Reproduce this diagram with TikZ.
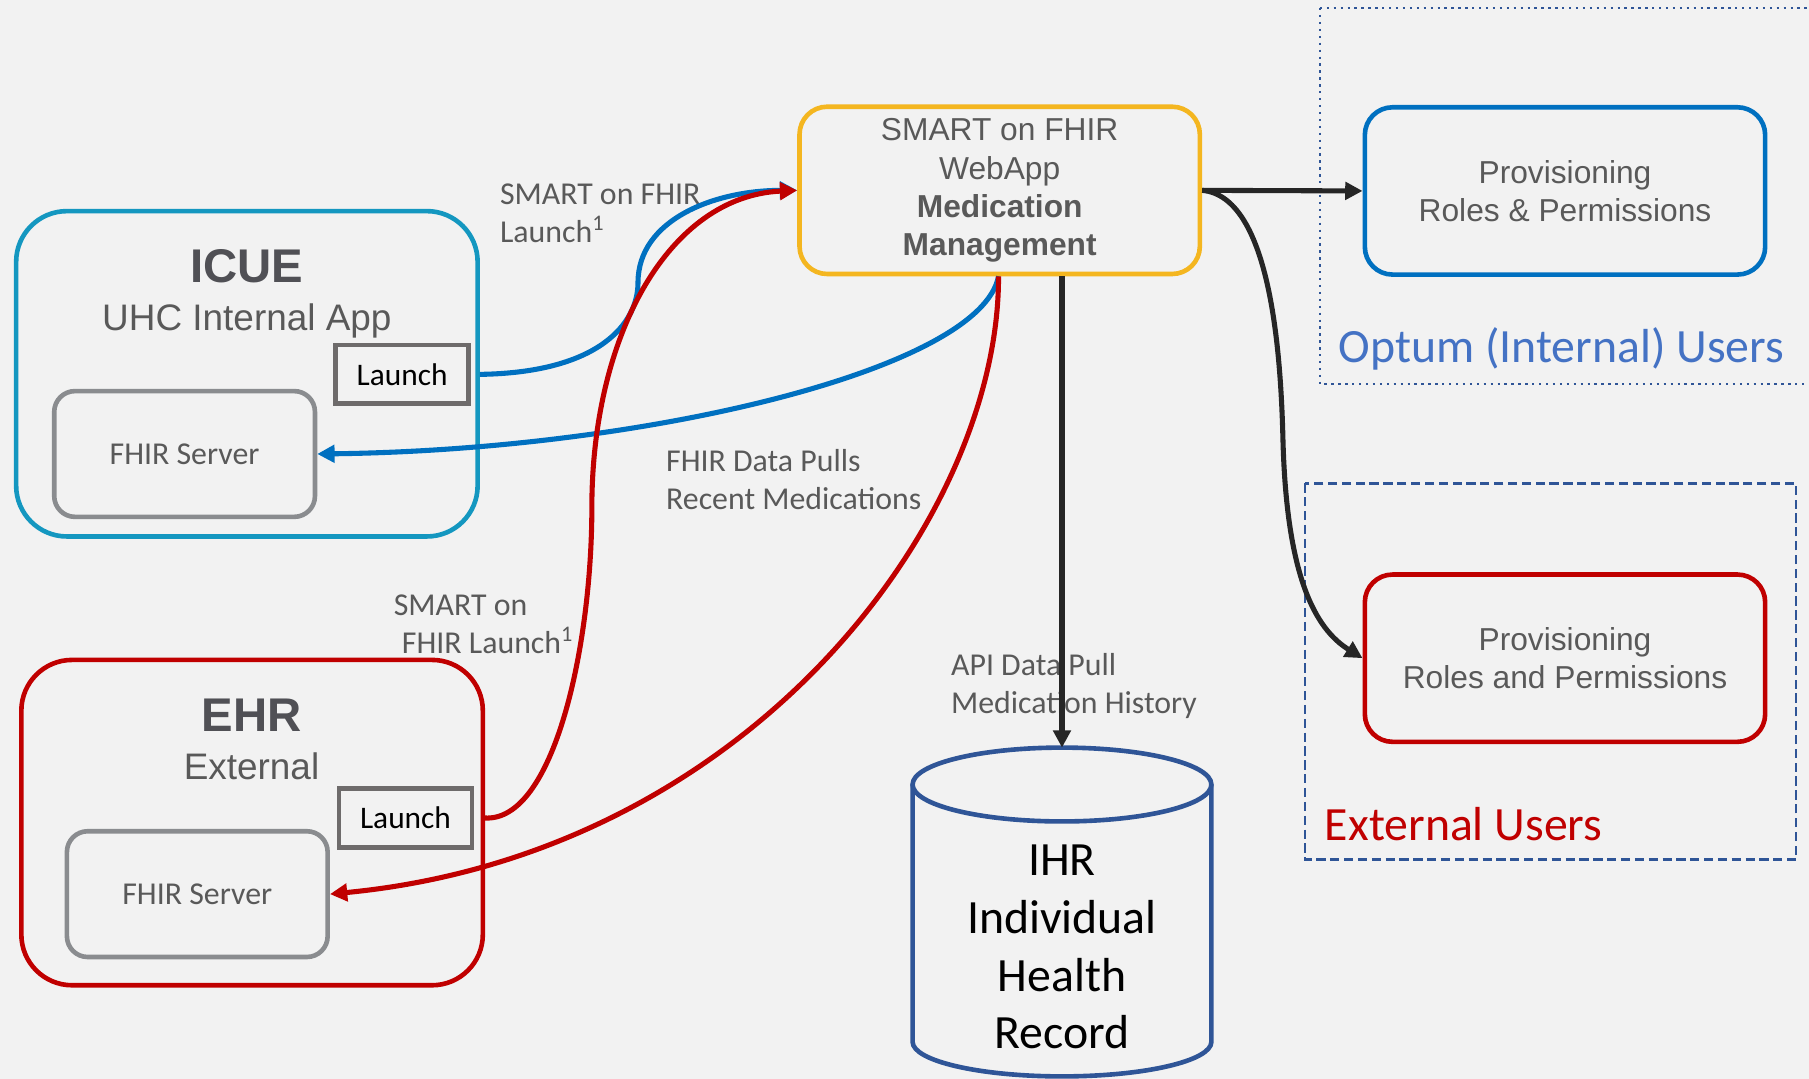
\documentclass[tikz,border=0pt]{standalone}
\usepackage{fontspec}
\setmainfont{Liberation Sans}
\newfontfamily\calib{Carlito}
\usetikzlibrary{arrows.meta}
\definecolor{bgc}{HTML}{F2F2F2}
\definecolor{tealc}{HTML}{1497C0}
\definecolor{redc}{HTML}{C00000}
\definecolor{orangec}{HTML}{F4B620}
\definecolor{bluec}{HTML}{0070C0}
\definecolor{launchc}{HTML}{6E6B6B}
\definecolor{serverc}{HTML}{8A8C8F}
\definecolor{cylc}{HTML}{2F5597}
\definecolor{optumc}{HTML}{4472C4}
\definecolor{txtc}{HTML}{595959}
\definecolor{titlec}{HTML}{505055}
\definecolor{darkc}{HTML}{262626}
\tikzset{
  bigbox/.style={draw=#1, line width=2pt, rounded corners=22pt, minimum width=200pt, minimum height=141pt},
  launchbox/.style={draw=launchc, line width=2pt, minimum width=57.5pt, minimum height=25.5pt, inner sep=0pt, font=\calib\fontsize{13.6}{16}\selectfont, text=black},
  serverbox/.style={draw=serverc, line width=2pt, rounded corners=9pt, minimum width=113pt, minimum height=54.5pt, inner sep=0pt, font=\calib\fontsize{13.8}{16}\selectfont, text=txtc},
  appbox/.style={draw=#1, line width=2pt, rounded corners=12pt, minimum width=173.5pt, minimum height=72.5pt, inner sep=0pt, align=center, text=txtc, font=\fontsize{13.75}{16.5}\selectfont},
  title/.style={font=\bfseries\fontsize{20.5}{24}\selectfont, text=titlec, inner sep=0pt},
  subtitle/.style={font=\fontsize{16}{19}\selectfont, text=txtc, inner sep=0pt},
  lbl/.style={font=\calib\fontsize{13.8}{16.5}\selectfont, text=txtc, align=left, anchor=west, inner sep=0pt},
  grouplbl/.style={font=\calib\fontsize{20.7}{25}\selectfont, anchor=west, inner sep=0pt},
  conn/.style={line width=2.2pt, -{Triangle[length=7.5pt,width=7.5pt]}},
}
\begin{document}
\begin{tikzpicture}[x=0.5pt,y=-0.5pt]
\fill[bgc] (0,0) rectangle (1568,935);
\useasboundingbox (0,0) rectangle (1568,935);

% group regions
\draw[cylc, line width=1pt, dotted] (1144,7) -- (1580,7) (1144,7) -- (1144,333) -- (1580,333);
\draw[cylc, line width=1pt, dashed, dash pattern=on 4pt off 2pt] (1131,419) rectangle (1557,745);
\node[grouplbl, text=optumc] (optum) at (1160,302) {Optum (Internal) Users};
\node[grouplbl, text=redc] (extusers) at (1148,714) {External Users};

% ICUE
\node[bigbox=tealc] (icue) at (214,324) {};
\node[title] (icuet) at (214,231) {ICUE};
\node[subtitle] (icues) at (214,278) {UHC Internal App};
\node[launchbox] (icuelaunch) at (348.5,324.5) {Launch};
\node[serverbox] (icuefhir) at (160,393.5) {FHIR Server};

% EHR
\node[bigbox=redc] (ehr) at (218.5,713) {};
\node[title] (ehrt) at (218,620) {EHR};
\node[subtitle] (ehrs) at (218,664) {External};
\node[launchbox] (ehrlaunch) at (351.5,709) {Launch};
\node[serverbox] (ehrfhir) at (171,775) {FHIR Server};

% SMART web app
\node[appbox=orangec] (smart) at (866.5,165) {SMART on FHIR\\WebApp\\\textbf{Medication}\\\textbf{Management}};
\node[appbox=bluec] (provint) at (1356.5,165.5) {Provisioning\\Roles \& Permissions};
\node[appbox=redc] (provext) at (1356.5,570.5) {Provisioning\\Roles and Permissions};

% IHR cylinder
\draw[cylc, line width=2pt, fill=bgc] (791,680) -- (791,903) arc[start angle=180, end angle=360, x radius=64.75pt, y radius=15pt] -- (1050,680);
\draw[cylc, line width=2pt] (920.5,680) ellipse[x radius=64.75pt, y radius=16pt];
\coordinate (ihrtop) at (920.5,648);
\node[font=\calib\fontsize{20.7}{25}\selectfont, align=center, inner sep=0pt] (ihr) at (920.5,821) {IHR\\Individual\\Health\\Record};

% labels
\node[lbl] (l1) at (433,184.5) {SMART on FHIR\\Launch\textsuperscript{1}};
\node[lbl] (l2) at (577,416) {FHIR Data Pulls\\Recent Medications};
\node[lbl] (l3) at (341,541.5) {SMART on\\\hspace*{3.5pt}FHIR Launch\textsuperscript{1}};
\node[lbl] (l4) at (824,594.5) {API Data Pull\\Medication History};

% connectors
\draw[conn, bluec] ([xshift=4pt]icuelaunch.east) .. controls (520,323) and (553,280) .. (553,245) .. controls (553,190) and (620,165) .. (smart.west);
\draw[conn, bluec] ([xshift=-0.5pt]smart.south) .. controls (850,320) and (560,390) .. (icuefhir.east);
\draw[conn, redc] ([xshift=4.5pt]ehrlaunch.east) .. controls (480,713) and (513,560) .. (513,440) .. controls (513,290) and (580,170) .. (smart.west);
\draw[conn, redc] ([xshift=-0.5pt]smart.south) .. controls (866,450) and (650,740) .. (ehrfhir.east);
\draw[conn, darkc] (smart.south -| ihrtop) -- (ihrtop);
\draw[conn, darkc] (smart.east) -- (provint.west);
\draw[conn, darkc] (smart.east) .. controls (1100,170) and (1110,300) .. (1112,380) .. controls (1115,500) and (1140,545) .. (provext.west);
\end{tikzpicture}
\end{document}
